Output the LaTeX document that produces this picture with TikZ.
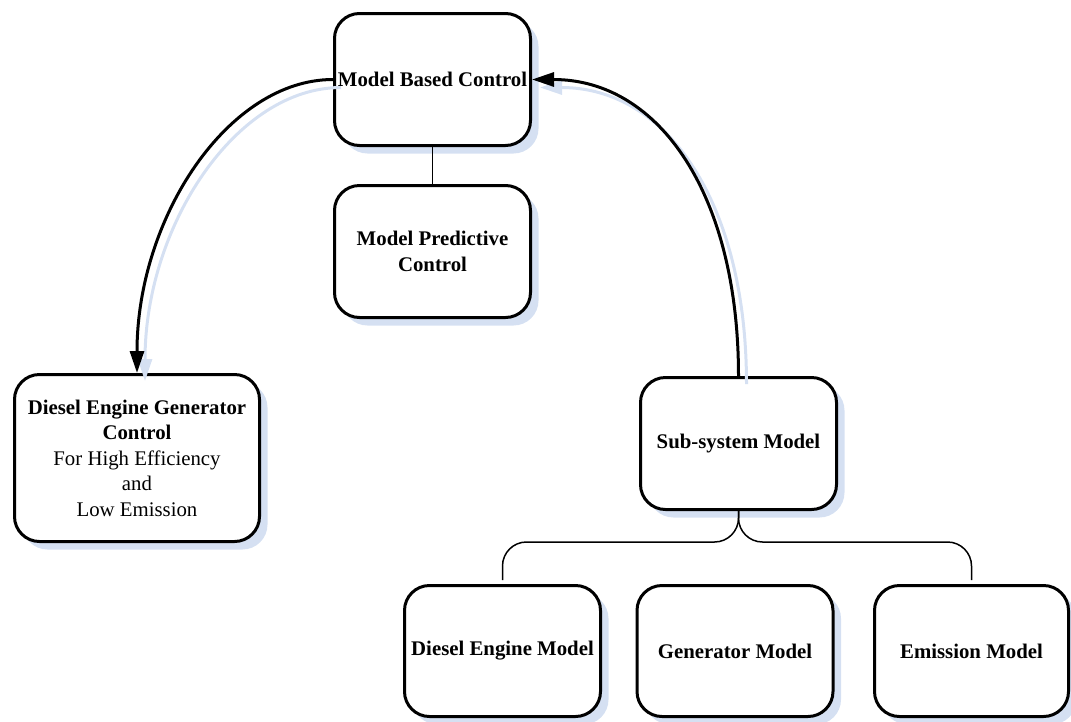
\documentclass[tikz,border=0pt]{standalone}
\usepackage{fontspec}
\setmainfont{Liberation Serif}
\usetikzlibrary{arrows.meta,shadows}
\definecolor{shadowblue}{RGB}{213,224,242}
\begin{document}
\begin{tikzpicture}[x=1pt,y=1pt,
  box/.style={draw, line width=3pt, rounded corners=25pt, fill=white,
    minimum width=196pt, minimum height=132pt, inner sep=0pt, align=center,
    font=\fontsize{20.8}{25.5}\selectfont\bfseries,
    drop shadow={shadow xshift=8pt, shadow yshift=-8pt, fill=shadowblue, opacity=1}},
  flow/.style={line width=3pt, -{Triangle[length=22pt,width=14pt]}},
  flowshadow/.style={line width=3pt, draw=shadowblue, -{Triangle[length=22pt,width=14pt]},
    transform canvas={shift={(8pt,-8pt)}}},
  link/.style={line width=1.5pt}]
\useasboundingbox (0,0) rectangle (1071,-721);

\node[box] (mbc) at (432.5,-79.5) {Model Based Control};
\node[box] (mpc) at (432.5,-251.5) {Model Predictive\\Control};
\node[box, minimum width=245pt, minimum height=167pt,
      font=\fontsize{20.8}{25.5}\selectfont] (degc) at (137,-458)
  {{\bfseries Diesel Engine Generator}\\{\bfseries Control}\\For High Efficiency\\and\\Low Emission};
\node[box] (sub) at (738.5,-443.5) {Sub-system Model};
\node[box, minimum height=131pt] (dem) at (502.5,-651) {Diesel Engine Model};
\node[box, minimum height=131pt] (gm) at (735,-651) {Generator Model};
\node[box, minimum height=131pt, minimum width=194pt] (em) at (971.5,-651) {Emission Model};

% connector shadows
\draw[flowshadow] (mbc.west) .. controls +(-105,0) and +(0,155) .. (degc.north);
\draw[flowshadow] (sub.north) .. controls +(0,180) and +(128,0) .. (mbc.east);

% connectors
\draw[flow] (mbc.west) .. controls +(-105,0) and +(0,155) .. (degc.north);
\draw[flow] (sub.north) .. controls +(0,180) and +(128,0) .. (mbc.east);
\draw[link] (mbc.south) -- (mpc.north);

\coordinate (bj) at (738,-542);
\draw[link, rounded corners=24pt] (sub.south) -- (sub.south |- bj) -- (bj -| dem.north) -- ([yshift=4pt]dem.north);
\draw[link, rounded corners=24pt] (sub.south) -- (sub.south |- bj) -- (bj -| em.north) -- ([yshift=4pt]em.north);
\end{tikzpicture}
\end{document}
